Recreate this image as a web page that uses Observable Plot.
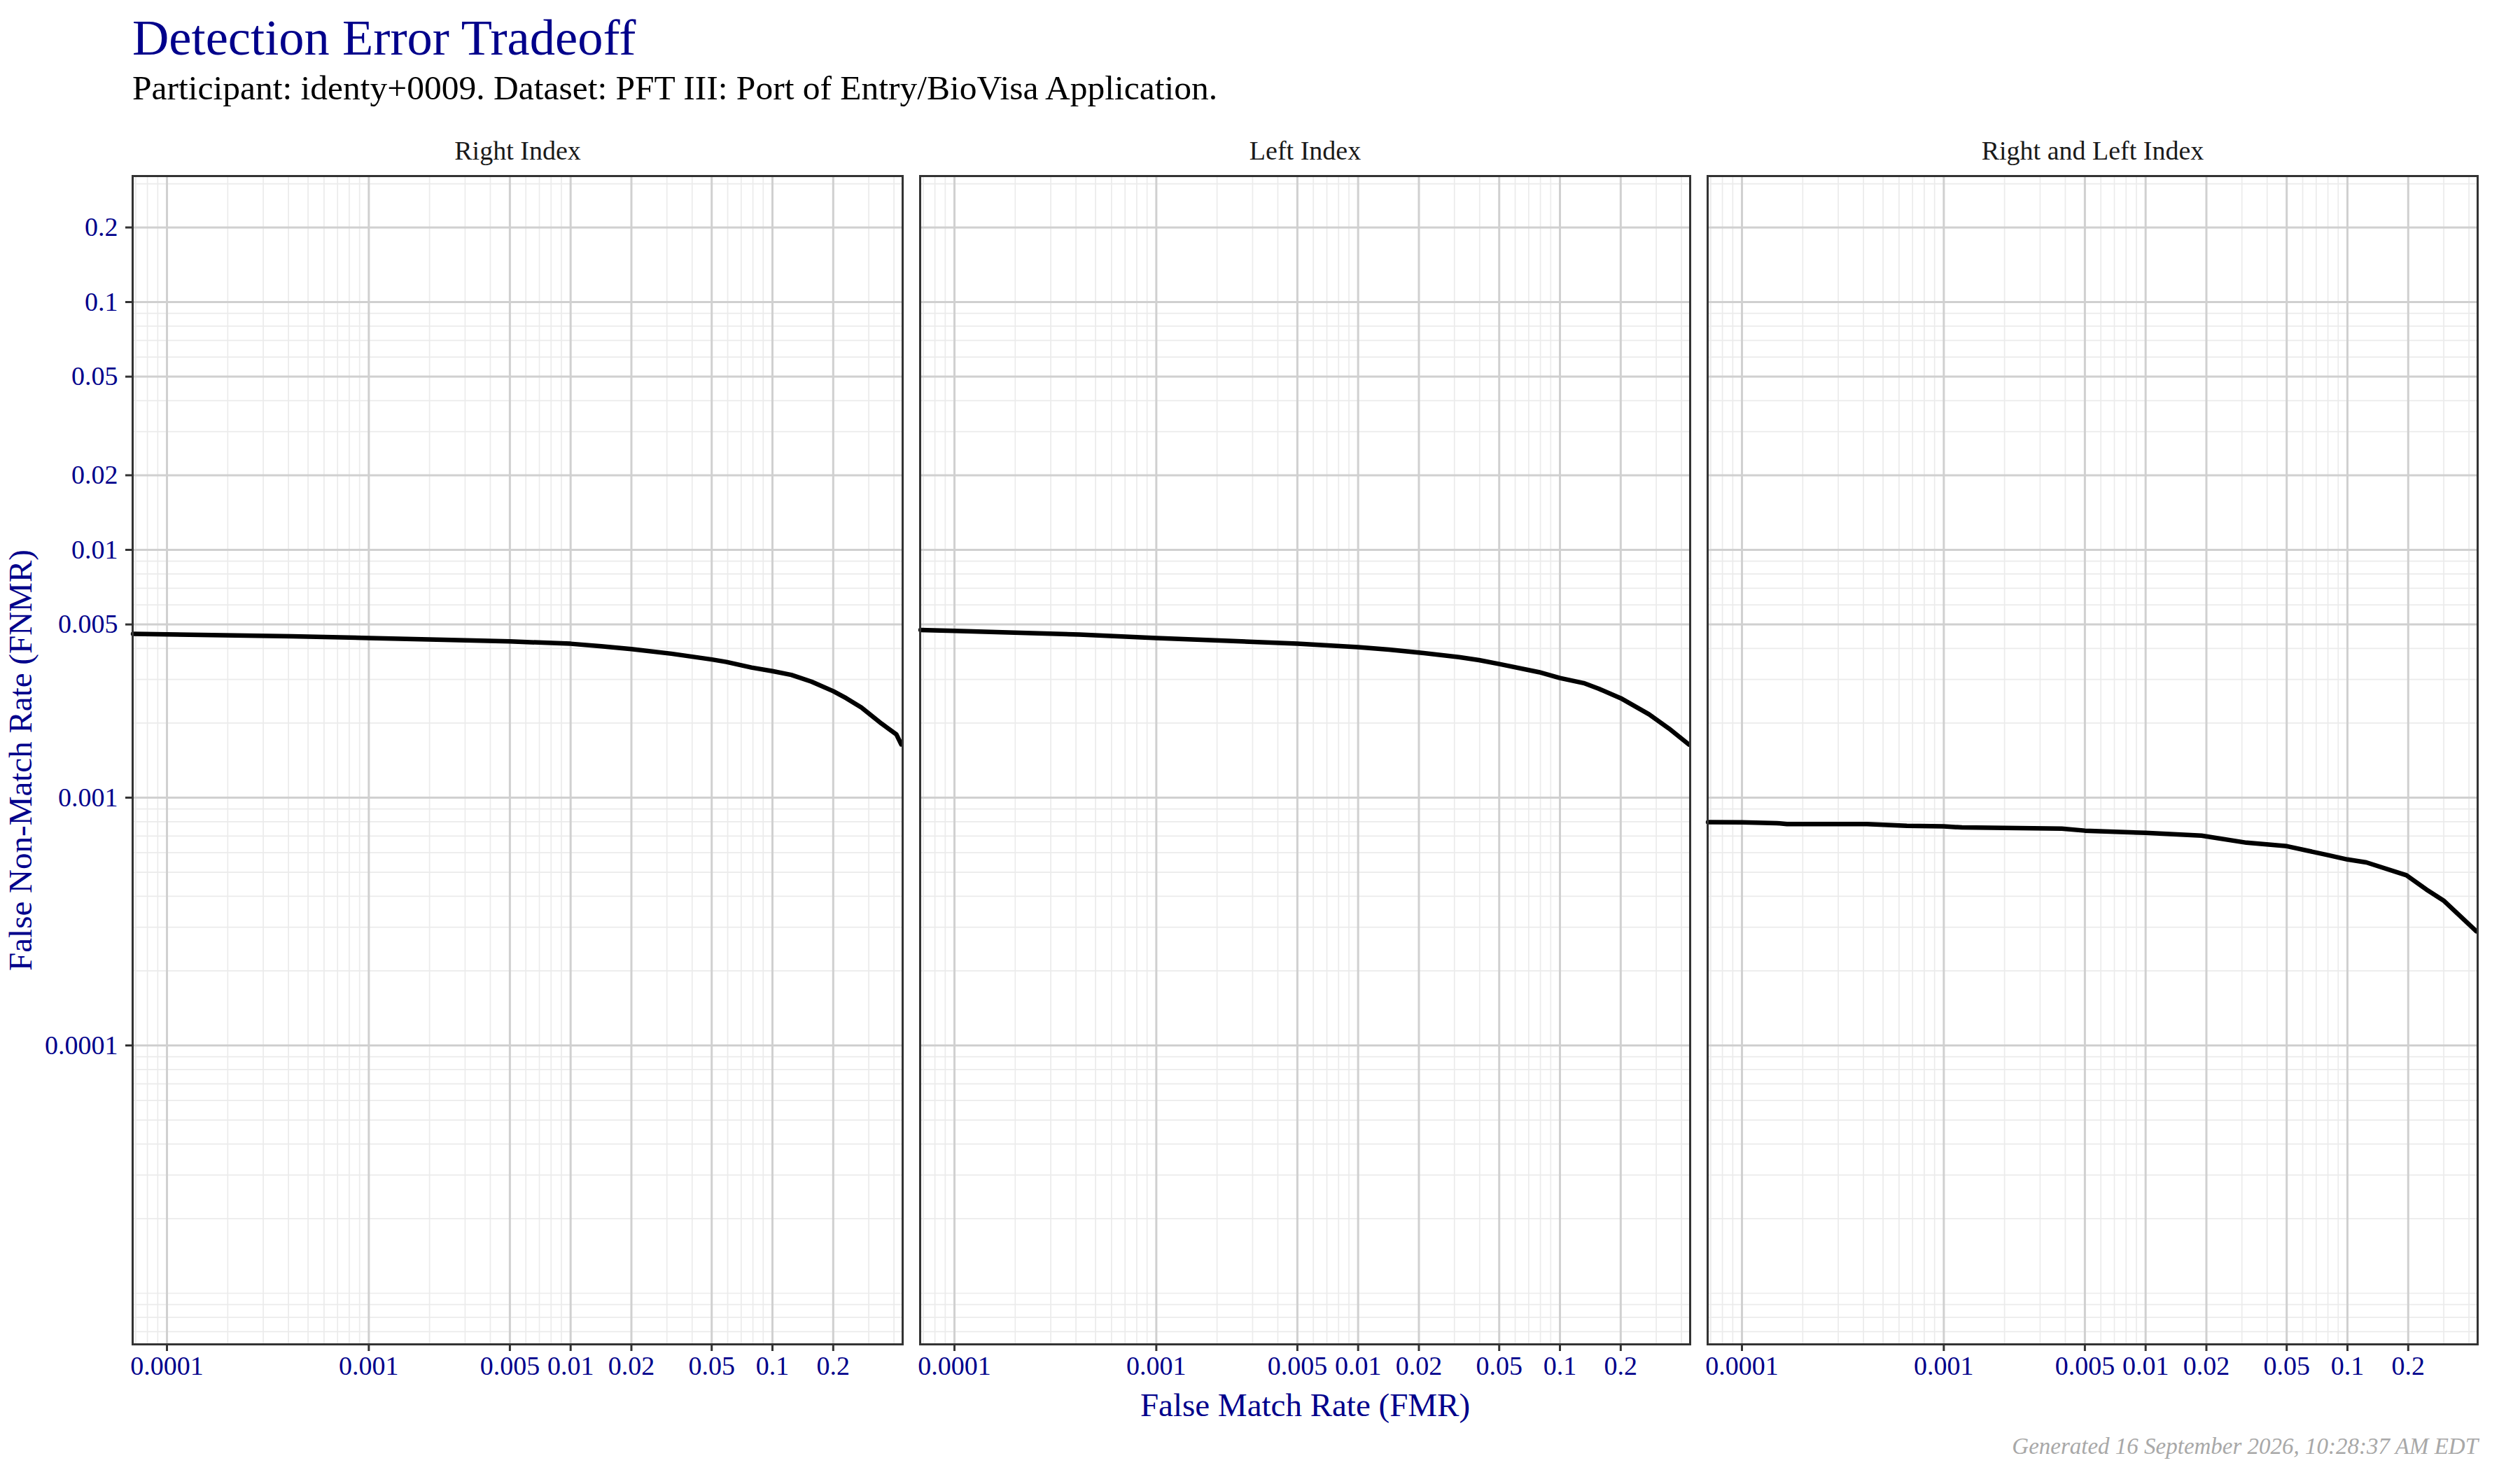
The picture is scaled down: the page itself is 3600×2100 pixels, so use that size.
<!DOCTYPE html>
<html>
<head>
<meta charset="utf-8">
<script src="https://cdn.jsdelivr.net/npm/d3@7"></script>
<script src="https://cdn.jsdelivr.net/npm/@observablehq/plot@0.6"></script>
<style>
  html, body { margin: 0; padding: 0; background: #ffffff; }
  #page { position: relative; width: 3600px; height: 2100px; background: #ffffff; font-family: "Liberation Serif", "DejaVu Serif", serif; }
  #header { position: relative; height: 170px; }
  #title { position: absolute; left: 189px; top: 18px; font-size: 72.5px; line-height: 1; color: #00008b; white-space: nowrap; }
  #subtitle { position: absolute; left: 189px; top: 101px; font-size: 49.5px; line-height: 1; color: #000000; white-space: nowrap; }
  #chart { display: block; height: 1875px; }
  #caption { position: absolute; right: 60px; top: 2050px; font-size: 33px; line-height: 1; font-style: italic; color: #a8a8a8; white-space: nowrap; }
</style>
</head>
<body>
<div id="page">
  <div id="header">
    <div id="title">Detection Error Tradeoff</div>
    <div id="subtitle">Participant: identy+0009. Dataset: PFT III: Port of Entry/BioVisa Application.</div>
  </div>
  <div id="chart"></div>
  <div id="caption">Generated 16 September 2026, 10:28:37 AM EDT</div>
</div>
<script>
// ---- data ----
const panels = ["Right Index", "Left Index", "Right and Left Index"];

const rightFMR  = [0.0000679, 0.0001, 0.000416, 0.001, 0.00217, 0.005, 0.01, 0.0142, 0.02, 0.0316, 0.0501, 0.0591, 0.0787, 0.1, 0.124, 0.156, 0.2, 0.232, 0.276, 0.347, 0.411, 0.435];
const rightFNMR = [0.00458, 0.00456, 0.00448, 0.00441, 0.00434, 0.00427, 0.00418, 0.00408, 0.00398, 0.00381, 0.00361, 0.00353, 0.00335, 0.00324, 0.00313, 0.00294, 0.00269, 0.00252, 0.00231, 0.00199, 0.00180, 0.00164];

const leftFMR  = [0.0000679, 0.0001, 0.000416, 0.001, 0.00217, 0.005, 0.01, 0.0142, 0.02, 0.0316, 0.0397, 0.0501, 0.0787, 0.1, 0.131, 0.156, 0.2, 0.276, 0.347, 0.435];
const leftFNMR = [0.00475, 0.00471, 0.00455, 0.00441, 0.00430, 0.00418, 0.00405, 0.00396, 0.00385, 0.00369, 0.00359, 0.00346, 0.00321, 0.00304, 0.00290, 0.00275, 0.00252, 0.00217, 0.00190, 0.00164];

const bothFMR  = [0.0000679, 0.0001, 0.000149, 0.000167, 0.000416, 0.000656, 0.001, 0.00123, 0.00384, 0.005, 0.01, 0.0189, 0.0316, 0.0501, 0.0787, 0.1, 0.124, 0.196, 0.246, 0.301, 0.367, 0.435];
const bothFNMR = [0.000796, 0.000795, 0.000789, 0.000782, 0.000782, 0.000770, 0.000766, 0.000758, 0.000750, 0.000736, 0.000721, 0.000703, 0.000658, 0.000637, 0.000588, 0.000563, 0.000548, 0.000486, 0.000426, 0.000383, 0.000329, 0.000289];

const tickValues = [0.0001, 0.001, 0.005, 0.01, 0.02, 0.05, 0.1, 0.2];
const tickLabels = ["0.0001", "0.001", "0.005", "0.01", "0.02", "0.05", "0.1", "0.2"];

const xDomain = [6.76e-5, 0.4416];
const yDomain = [6.22e-6, 0.3225];

// ---- build table ----
const series = [
  [panels[0], rightFMR, rightFNMR],
  [panels[1], leftFMR, leftFNMR],
  [panels[2], bothFMR, bothFNMR]
];
const rows = series.flatMap(([panel, xs, ys]) => xs.map((x, i) => ({panel, fmr: x, fnmr: ys[i]})));
const fmt = d => tickLabels[tickValues.indexOf(d)];

const blue = "#00008b";

const chart = Plot.plot({
  width: 3600,
  height: 1875,
  marginLeft: 188,
  marginRight: 60,
  marginTop: 81,
  marginBottom: 125,
  style: {fontFamily: "'Liberation Serif', 'DejaVu Serif', serif", background: "#ffffff"},
  fx: {domain: panels, paddingInner: 25 / 1126, paddingOuter: 0, label: null},
  x: {type: "log", domain: xDomain},
  y: {type: "log", domain: yDomain},
  marks: [
    Plot.gridX({ticks: 60, stroke: "#ebebeb", strokeOpacity: 1, strokeWidth: 1.7}),
    Plot.gridY({ticks: 60, stroke: "#ebebeb", strokeOpacity: 1, strokeWidth: 1.7}),
    Plot.gridX(tickValues, {stroke: "#d0d0d0", strokeOpacity: 1, strokeWidth: 3}),
    Plot.gridY(tickValues, {stroke: "#d0d0d0", strokeOpacity: 1, strokeWidth: 3}),
    Plot.line(rows, {x: "fmr", y: "fnmr", fx: "panel", stroke: "#000000", strokeWidth: 6.5, strokeLinejoin: "round"}),
    Plot.frame({stroke: "#333333", strokeWidth: 3}),
    // tick marks (labels drawn separately so that every label shows on the log scale)
    Plot.axisX(tickValues, {tickSize: 10, stroke: "#333333", strokeWidth: 3, fill: "none", label: null}),
    Plot.axisY(tickValues, {tickSize: 10, stroke: "#333333", strokeWidth: 3, fill: "none", label: null}),
    Plot.text(tickValues, {x: d => d, text: fmt, frameAnchor: "bottom", lineAnchor: "top", textAnchor: "middle", dy: 17, fontSize: 38, fill: blue}),
    Plot.text(tickValues, {y: d => d, fx: () => panels[0], text: fmt, frameAnchor: "left", lineAnchor: "middle", textAnchor: "end", dx: -21, fontSize: 38, fill: blue}),
    Plot.axisFx({anchor: "top", tickSize: 0, tickPadding: 24, fontSize: 38, fill: "#1a1a1a", label: null}),
    Plot.text(["False Match Rate (FMR)"], {fx: () => panels[1], frameAnchor: "bottom", textAnchor: "middle", text: d => d, dy: 102, fontSize: 47, fill: blue}),
    Plot.text(["False Non-Match Rate (FNMR)"], {fx: () => panels[0], frameAnchor: "left", textAnchor: "middle", lineAnchor: "middle", text: d => d, dx: -160, rotate: -90, fontSize: 47, fill: blue})
  ]
});
document.getElementById("chart").appendChild(chart);
</script>
</body>
</html>
